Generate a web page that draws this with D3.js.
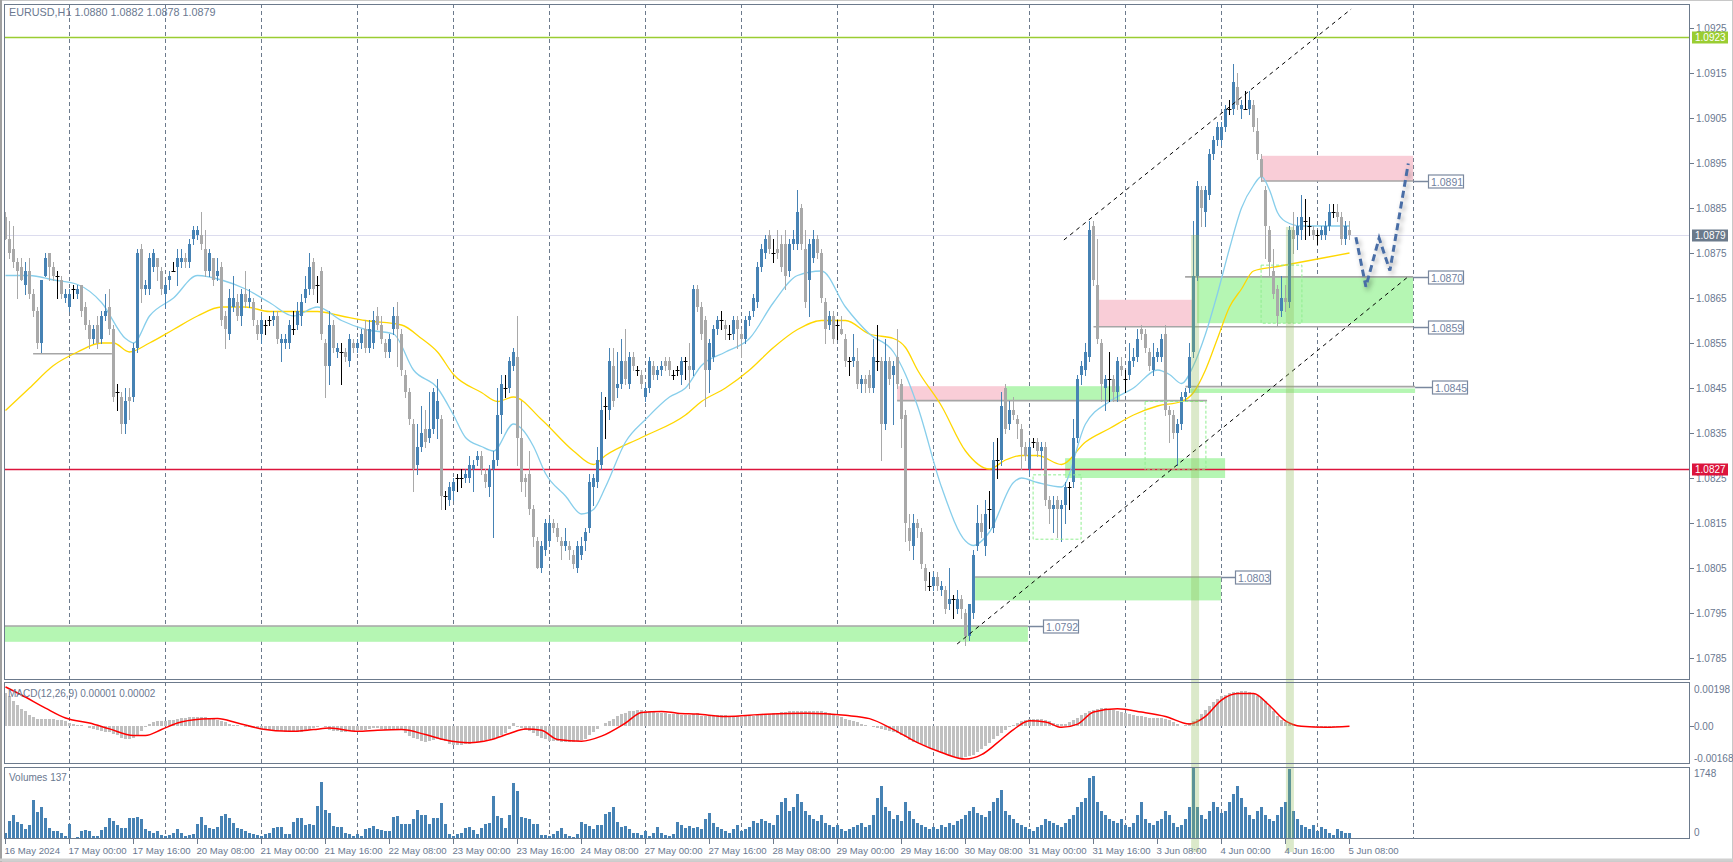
<!DOCTYPE html>
<html><head><meta charset="utf-8">
<script src="https://cdn.jsdelivr.net/npm/d3@7"></script>
<style>html,body{margin:0;padding:0;background:#fff;overflow:hidden}svg{display:block;font-family:"Liberation Sans",Arial,sans-serif}</style>
</head><body><svg id="c" width="1733" height="862"></svg>
<script>
// ---------------- DATA (EURUSD H1, 16 May 2024 08:00 .. 5 Jun 2024 08:00) ----------------
const open=[
1.0883,1.0878,1.0876,1.0873,1.0872,1.0868,1.0871,1.0866,1.0862,1.0855,
1.0870,1.0875,1.0872,1.0870,1.0869,1.0865,1.0863,1.0867,1.0866,1.0868,
1.0863,1.0859,1.0856,1.0859,1.0856,1.0861,1.0863,1.0858,1.0844,1.0843,
1.0837,1.0843,1.0843,1.0854,1.0876,1.0867,1.0867,1.0872,1.0874,1.0871,
1.0866,1.0869,1.0871,1.0872,1.0873,1.0874,1.0873,1.0878,1.0879,1.0879,
1.0876,1.0871,1.0874,1.0870,1.0872,1.0861,1.0857,1.0863,1.0864,1.0861,
1.0866,1.0864,1.0864,1.0859,1.0857,1.0859,1.0860,1.0860,1.0861,1.0855,
1.0855,1.0855,1.0858,1.0859,1.0861,1.0865,1.0867,1.0873,1.0868,1.0871,
1.0855,1.0850,1.0859,1.0853,1.0853,1.0853,1.0851,1.0855,1.0854,1.0855,
1.0858,1.0854,1.0855,1.0861,1.0859,1.0855,1.0853,1.0858,1.0861,1.0857,
1.0848,1.0844,1.0837,1.0828,1.0832,1.0836,1.0834,1.0836,1.0838,1.0838,
1.0821,1.0820,1.0822,1.0825,1.0825,1.0825,1.0825,1.0827,1.0829,1.0830,
1.0826,1.0823,1.0827,1.0829,1.0839,1.0845,1.0845,1.0850,1.0852,1.0834,
1.0825,1.0826,1.0818,1.0811,1.0805,1.0809,1.0811,1.0815,1.0814,1.0811,
1.0810,1.0810,1.0808,1.0805,1.0808,1.0811,1.0814,1.0823,1.0824,1.0828,
1.0841,1.0840,1.0850,1.0845,1.0846,1.0851,1.0846,1.0852,1.0849,1.0848,
1.0843,1.0845,1.0850,1.0848,1.0849,1.0851,1.0851,1.0848,1.0849,1.0848,
1.0851,1.0850,1.0849,1.0867,1.0863,1.0860,1.0849,1.0852,1.0858,1.0860,
1.0859,1.0857,1.0857,1.0860,1.0857,1.0856,1.0860,1.0862,1.0864,1.0872,
1.0875,1.0879,1.0875,1.0876,1.0877,1.0877,1.0871,1.0877,1.0877,1.0885,
1.0876,1.0869,1.0874,1.0878,1.0875,1.0864,1.0859,1.0861,1.0859,1.0858,
1.0856,1.0851,1.0851,1.0851,1.0846,1.0847,1.0848,1.0845,1.0851,1.0851,
1.0837,1.0851,1.0848,1.0852,1.0846,1.0839,1.0814,1.0810,1.0815,1.0813,
1.0805,1.0801,1.0801,1.0803,1.0800,1.0800,1.0797,1.0798,1.0796,1.0798,
1.0795,1.0790,1.0795,1.0810,1.0815,1.0810,1.0818,1.0814,1.0829,1.0829,
1.0845,1.0837,1.0840,1.0838,1.0836,1.0832,1.0827,1.0833,1.0833,1.0831,
1.0832,1.0820,1.0818,1.0820,1.0818,1.0819,1.0823,1.0824,1.0834,1.0848,
1.0849,1.0852,1.0881,1.0868,1.0855,1.0845,1.0847,1.0847,1.0844,1.0850,
1.0847,1.0848,1.0851,1.0852,1.0858,1.0857,1.0853,1.0849,1.0852,1.0852,
1.0857,1.0840,1.0839,1.0835,1.0837,1.0843,1.0845,1.0853,1.0870,1.0889,
1.0884,1.0888,1.0897,1.0900,1.0900,1.0903,1.0907,1.0907,1.0912,1.0907,
1.0907,1.0907,1.0908,1.0902,1.0896,1.0889,1.0880,1.0871,1.0867,1.0862,
1.0865,1.0864,1.0880,1.0879,1.0880,1.0882,1.0881,1.0880,1.0879,1.0879,
1.0879,1.0881,1.0884,1.0884,1.0883,1.0878,1.0880];
const high=[
1.0884,1.0882,1.0881,1.0874,1.0874,1.0873,1.0874,1.0867,1.0863,1.0869,
1.0875,1.0875,1.0873,1.0871,1.0870,1.0867,1.0867,1.0868,1.0868,1.0868,
1.0864,1.0860,1.0859,1.0861,1.0862,1.0866,1.0867,1.0859,1.0846,1.0844,
1.0845,1.0845,1.0855,1.0876,1.0877,1.0869,1.0875,1.0876,1.0874,1.0872,
1.0869,1.0871,1.0873,1.0876,1.0876,1.0875,1.0878,1.0881,1.0881,1.0884,
1.0880,1.0876,1.0874,1.0874,1.0873,1.0862,1.0867,1.0870,1.0866,1.0867,
1.0871,1.0867,1.0865,1.0860,1.0861,1.0860,1.0861,1.0862,1.0862,1.0857,
1.0857,1.0860,1.0862,1.0864,1.0866,1.0870,1.0875,1.0874,1.0870,1.0872,
1.0856,1.0862,1.0860,1.0855,1.0855,1.0854,1.0857,1.0856,1.0856,1.0858,
1.0860,1.0860,1.0862,1.0863,1.0861,1.0856,1.0857,1.0863,1.0864,1.0858,
1.0849,1.0845,1.0838,1.0837,1.0841,1.0840,1.0844,1.0845,1.0847,1.0839,
1.0822,1.0824,1.0825,1.0826,1.0827,1.0827,1.0830,1.0829,1.0831,1.0831,
1.0827,1.0828,1.0831,1.0845,1.0848,1.0848,1.0852,1.0854,1.0861,1.0842,
1.0826,1.0831,1.0819,1.0812,1.0811,1.0816,1.0816,1.0816,1.0815,1.0812,
1.0814,1.0811,1.0809,1.0811,1.0812,1.0814,1.0826,1.0826,1.0832,1.0844,
1.0843,1.0854,1.0854,1.0853,1.0856,1.0858,1.0853,1.0853,1.0850,1.0849,
1.0846,1.0852,1.0851,1.0850,1.0851,1.0852,1.0852,1.0849,1.0850,1.0852,
1.0852,1.0855,1.0868,1.0868,1.0864,1.0861,1.0856,1.0859,1.0861,1.0862,
1.0860,1.0859,1.0861,1.0861,1.0858,1.0861,1.0862,1.0866,1.0873,1.0877,
1.0879,1.0880,1.0878,1.0880,1.0879,1.0880,1.0878,1.0880,1.0889,1.0886,
1.0880,1.0878,1.0880,1.0879,1.0876,1.0865,1.0862,1.0862,1.0860,1.0861,
1.0857,1.0852,1.0857,1.0854,1.0848,1.0848,1.0849,1.0856,1.0859,1.0852,
1.0856,1.0852,1.0851,1.0858,1.0847,1.0840,1.0817,1.0817,1.0816,1.0814,
1.0806,1.0804,1.0804,1.0804,1.0802,1.0801,1.0805,1.0799,1.0800,1.0799,
1.0796,1.0797,1.0809,1.0819,1.0817,1.0820,1.0822,1.0833,1.0834,1.0844,
1.0846,1.0842,1.0843,1.0839,1.0837,1.0833,1.0833,1.0834,1.0834,1.0833,
1.0833,1.0821,1.0821,1.0821,1.0820,1.0824,1.0824,1.0838,1.0848,1.0851,
1.0855,1.0882,1.0882,1.0878,1.0856,1.0848,1.0853,1.0848,1.0852,1.0852,
1.0849,1.0855,1.0854,1.0858,1.0859,1.0858,1.0854,1.0855,1.0854,1.0857,
1.0859,1.0841,1.0840,1.0838,1.0844,1.0845,1.0855,1.0882,1.0891,1.0890,
1.0890,1.0898,1.0901,1.0904,1.0904,1.0908,1.0909,1.0917,1.0915,1.0909,
1.0911,1.0911,1.0909,1.0905,1.0897,1.0890,1.0881,1.0876,1.0868,1.0870,
1.0868,1.0881,1.0884,1.0883,1.0888,1.0887,1.0883,1.0881,1.0880,1.0881,
1.0882,1.0886,1.0886,1.0886,1.0884,1.0882,1.0882];
const low=[
1.0878,1.0874,1.0872,1.0865,1.0869,1.0866,1.0865,1.0861,1.0854,1.0853,
1.0870,1.0869,1.0869,1.0865,1.0865,1.0864,1.0862,1.0865,1.0865,1.0861,
1.0858,1.0854,1.0855,1.0854,1.0855,1.0860,1.0857,1.0842,1.0840,1.0835,
1.0835,1.0838,1.0842,1.0853,1.0864,1.0866,1.0866,1.0871,1.0869,1.0866,
1.0863,1.0867,1.0871,1.0868,1.0872,1.0872,1.0872,1.0877,1.0878,1.0876,
1.0870,1.0870,1.0868,1.0869,1.0859,1.0854,1.0856,1.0862,1.0860,1.0859,
1.0863,1.0863,1.0859,1.0856,1.0855,1.0857,1.0859,1.0859,1.0855,1.0851,
1.0854,1.0854,1.0857,1.0858,1.0859,1.0864,1.0866,1.0866,1.0864,1.0856,
1.0843,1.0846,1.0853,1.0852,1.0846,1.0851,1.0850,1.0853,1.0853,1.0854,
1.0853,1.0853,1.0854,1.0858,1.0855,1.0852,1.0852,1.0857,1.0850,1.0848,
1.0843,1.0837,1.0822,1.0826,1.0831,1.0832,1.0833,1.0835,1.0834,1.0818,
1.0818,1.0819,1.0820,1.0822,1.0823,1.0824,1.0824,1.0822,1.0828,1.0826,
1.0823,1.0821,1.0812,1.0828,1.0835,1.0843,1.0844,1.0849,1.0828,1.0822,
1.0821,1.0817,1.0810,1.0805,1.0804,1.0808,1.0810,1.0813,1.0811,1.0807,
1.0809,1.0807,1.0805,1.0804,1.0807,1.0809,1.0813,1.0819,1.0823,1.0827,
1.0834,1.0838,1.0841,1.0843,1.0845,1.0846,1.0845,1.0849,1.0848,1.0845,
1.0842,1.0844,1.0847,1.0847,1.0848,1.0849,1.0848,1.0847,1.0848,1.0846,
1.0847,1.0845,1.0848,1.0862,1.0856,1.0841,1.0844,1.0851,1.0857,1.0858,
1.0856,1.0856,1.0856,1.0854,1.0852,1.0855,1.0859,1.0861,1.0863,1.0871,
1.0874,1.0875,1.0873,1.0874,1.0871,1.0867,1.0870,1.0876,1.0876,1.0876,
1.0863,1.0861,1.0873,1.0874,1.0864,1.0855,1.0858,1.0855,1.0856,1.0857,
1.0850,1.0848,1.0850,1.0845,1.0844,1.0844,1.0844,1.0844,1.0849,1.0829,
1.0836,1.0846,1.0837,1.0845,1.0832,1.0811,1.0809,1.0807,1.0812,1.0805,
1.0800,1.0800,1.0800,1.0800,1.0799,1.0795,1.0796,1.0794,1.0795,1.0794,
1.0788,1.0789,1.0794,1.0809,1.0812,1.0808,1.0814,1.0813,1.0825,1.0828,
1.0835,1.0836,1.0838,1.0834,1.0827,1.0829,1.0826,1.0832,1.0830,1.0827,
1.0819,1.0815,1.0813,1.0812,1.0811,1.0815,1.0818,1.0823,1.0833,1.0846,
1.0848,1.0851,1.0868,1.0855,1.0842,1.0840,1.0842,1.0842,1.0842,1.0848,
1.0844,1.0847,1.0850,1.0851,1.0856,1.0853,1.0849,1.0848,1.0851,1.0851,
1.0839,1.0833,1.0834,1.0828,1.0836,1.0842,1.0844,1.0852,1.0869,1.0881,
1.0881,1.0887,1.0896,1.0899,1.0899,1.0902,1.0906,1.0906,1.0907,1.0905,
1.0907,1.0906,1.0902,1.0896,1.0891,1.0874,1.0870,1.0865,1.0859,1.0861,
1.0862,1.0863,1.0875,1.0876,1.0878,1.0878,1.0879,1.0878,1.0877,1.0878,
1.0878,1.0880,1.0883,1.0882,1.0877,1.0877,1.0878];
const close=[
1.0878,1.0875,1.0873,1.0871,1.0869,1.0871,1.0866,1.0862,1.0855,1.0869,
1.0874,1.0872,1.0870,1.0870,1.0866,1.0866,1.0866,1.0867,1.0867,1.0862,
1.0859,1.0856,1.0858,1.0855,1.0861,1.0862,1.0858,1.0843,1.0844,1.0837,
1.0842,1.0842,1.0854,1.0875,1.0867,1.0868,1.0874,1.0875,1.0872,1.0867,
1.0868,1.0870,1.0871,1.0874,1.0874,1.0873,1.0877,1.0880,1.0880,1.0877,
1.0871,1.0875,1.0869,1.0871,1.0860,1.0858,1.0865,1.0865,1.0861,1.0866,
1.0864,1.0865,1.0860,1.0857,1.0860,1.0859,1.0860,1.0861,1.0856,1.0856,
1.0856,1.0859,1.0858,1.0862,1.0864,1.0867,1.0872,1.0867,1.0868,1.0857,
1.0850,1.0859,1.0854,1.0854,1.0853,1.0852,1.0856,1.0854,1.0855,1.0857,
1.0854,1.0858,1.0860,1.0859,1.0856,1.0853,1.0856,1.0861,1.0858,1.0849,
1.0844,1.0838,1.0827,1.0832,1.0835,1.0833,1.0836,1.0844,1.0842,1.0821,
1.0821,1.0823,1.0824,1.0825,1.0825,1.0826,1.0828,1.0828,1.0830,1.0827,
1.0824,1.0827,1.0829,1.0839,1.0846,1.0845,1.0851,1.0853,1.0834,1.0824,
1.0824,1.0818,1.0812,1.0805,1.0810,1.0815,1.0815,1.0814,1.0812,1.0810,
1.0811,1.0809,1.0806,1.0810,1.0810,1.0813,1.0824,1.0825,1.0829,1.0840,
1.0841,1.0851,1.0842,1.0846,1.0851,1.0847,1.0852,1.0850,1.0849,1.0846,
1.0845,1.0851,1.0848,1.0849,1.0850,1.0850,1.0849,1.0848,1.0849,1.0851,
1.0851,1.0849,1.0867,1.0863,1.0857,1.0849,1.0855,1.0858,1.0860,1.0860,
1.0858,1.0857,1.0860,1.0858,1.0856,1.0860,1.0861,1.0865,1.0872,1.0876,
1.0878,1.0876,1.0875,1.0875,1.0872,1.0870,1.0877,1.0878,1.0884,1.0877,
1.0864,1.0877,1.0878,1.0875,1.0865,1.0858,1.0861,1.0856,1.0859,1.0857,
1.0851,1.0851,1.0852,1.0846,1.0847,1.0846,1.0845,1.0852,1.0851,1.0837,
1.0851,1.0847,1.0850,1.0846,1.0838,1.0815,1.0811,1.0815,1.0814,1.0806,
1.0802,1.0801,1.0803,1.0801,1.0801,1.0796,1.0798,1.0798,1.0798,1.0796,
1.0790,1.0797,1.0808,1.0815,1.0813,1.0817,1.0818,1.0829,1.0829,1.0841,
1.0836,1.0840,1.0839,1.0837,1.0832,1.0830,1.0832,1.0833,1.0831,1.0832,
1.0820,1.0818,1.0819,1.0818,1.0819,1.0823,1.0823,1.0834,1.0847,1.0850,
1.0853,1.0880,1.0869,1.0856,1.0846,1.0847,1.0847,1.0844,1.0851,1.0849,
1.0847,1.0851,1.0852,1.0856,1.0857,1.0854,1.0850,1.0852,1.0853,1.0856,
1.0840,1.0839,1.0835,1.0837,1.0843,1.0844,1.0852,1.0870,1.0890,1.0885,
1.0889,1.0897,1.0900,1.0903,1.0903,1.0907,1.0907,1.0913,1.0908,1.0908,
1.0907,1.0909,1.0903,1.0897,1.0892,1.0881,1.0873,1.0866,1.0861,1.0865,
1.0864,1.0880,1.0878,1.0881,1.0883,1.0882,1.0881,1.0879,1.0879,1.0880,
1.0881,1.0884,1.0884,1.0883,1.0878,1.0881,1.0879];
const volumes=[
160,440,590,430,360,240,350,950,660,780,
510,280,200,200,160,65,380,25,40,200,
220,200,80,80,225,305,520,440,345,280,
280,520,505,540,500,240,200,160,185,105,
80,105,160,240,160,80,105,135,360,540,
345,280,240,300,565,605,520,400,280,240,
200,160,120,105,80,120,160,280,300,300,
120,135,430,520,505,345,380,345,805,1395,
725,645,320,305,305,160,120,80,135,80,
240,265,320,240,220,200,200,540,565,380,
380,380,500,725,590,590,380,505,505,885,
380,120,80,135,160,280,300,220,135,280,
380,400,1060,565,520,280,590,1370,1185,540,
520,485,360,380,105,105,80,135,200,265,
135,80,40,120,430,360,320,240,345,345,
620,670,780,430,300,320,240,160,160,105,
200,80,160,300,160,105,80,120,430,345,
280,320,280,300,250,500,650,400,300,250,
200,150,250,350,200,250,300,450,400,500,
450,400,350,600,900,1000,700,800,1100,900,
700,600,500,450,600,400,350,300,350,250,
200,250,300,350,400,300,350,600,1000,1300,
800,700,500,600,450,900,700,500,400,350,
300,250,300,250,350,300,400,350,450,500,
600,700,800,650,600,550,700,900,1000,1200,
700,600,500,400,350,300,250,200,300,350,
500,450,400,350,300,400,500,600,800,900,
1000,1500,1550,900,700,600,500,450,400,500,
350,300,400,600,900,500,400,350,450,500,
700,600,400,300,350,500,800,1748,800,600,
500,700,900,800,650,700,900,1100,1300,1000,
800,600,500,700,800,600,500,450,600,800,
900,1720,700,500,350,300,250,350,200,300,
250,150,100,250,200,150,137];
const macdMain=[
150e-5,138e-5,117e-5,98e-5,78e-5,68e-5,53e-5,42e-5,35e-5,33e-5,
33e-5,33e-5,32e-5,31e-5,28e-5,23e-5,15e-5,12e-5,8e-5,4e-5,
0,-8e-5,-12e-5,-15e-5,-20e-5,-24e-5,-27e-5,-35e-5,-42e-5,-53e-5,
-60e-5,-60e-5,-53e-5,-38e-5,-23e-5,-5e-5,12e-5,18e-5,23e-5,23e-5,
25e-5,27e-5,30e-5,33e-5,36e-5,38e-5,42e-5,42e-5,42e-5,42e-5,
42e-5,40e-5,38e-5,30e-5,24e-5,18e-5,12e-5,8e-5,5e-5,0,
-2e-5,-3e-5,-5e-5,-8e-5,-12e-5,-15e-5,-16e-5,-18e-5,-20e-5,-23e-5,
-25e-5,-27e-5,-27e-5,-26e-5,-24e-5,-22e-5,-18e-5,-10e-5,3e-5,0,
-5e-5,-15e-5,-20e-5,-23e-5,-27e-5,-25e-5,-23e-5,-20e-5,-18e-5,-16e-5,
-15e-5,-12e-5,-10e-5,-8e-5,-12e-5,-15e-5,-13e-5,-12e-5,-12e-5,-18e-5,
-30e-5,-45e-5,-52e-5,-60e-5,-66e-5,-72e-5,-68e-5,-64e-5,-60e-5,-64e-5,
-68e-5,-83e-5,-86e-5,-87e-5,-85e-5,-83e-5,-80e-5,-78e-5,-72e-5,-70e-5,
-64e-5,-60e-5,-57e-5,-53e-5,-42e-5,-30e-5,-12e-5,15e-5,3e-5,-8e-5,
-15e-5,-22e-5,-30e-5,-45e-5,-52e-5,-57e-5,-68e-5,-69e-5,-69e-5,-70e-5,
-72e-5,-72e-5,-70e-5,-68e-5,-64e-5,-60e-5,-38e-5,-25e-5,-12e-5,0,
15e-5,25e-5,33e-5,45e-5,57e-5,62e-5,68e-5,72e-5,74e-5,75e-5,
72e-5,70e-5,68e-5,63e-5,62e-5,60e-5,57e-5,55e-5,54e-5,53e-5,
53e-5,53e-5,55e-5,60e-5,45e-5,45e-5,47e-5,48e-5,50e-5,50e-5,
50e-5,48e-5,46e-5,45e-5,44e-5,45e-5,45e-5,47e-5,50e-5,53e-5,
55e-5,57e-5,60e-5,62e-5,64e-5,66e-5,68e-5,70e-5,70e-5,71e-5,
72e-5,72e-5,71e-5,70e-5,70e-5,67e-5,62e-5,55e-5,48e-5,42e-5,
35e-5,30e-5,24e-5,18e-5,12e-5,6e-5,0,-5e-5,-8e-5,-12e-5,
-18e-5,-22e-5,-25e-5,-30e-5,-38e-5,-50e-5,-62e-5,-70e-5,-75e-5,-82e-5,
-90e-5,-98e-5,-105e-5,-112e-5,-120e-5,-128e-5,-135e-5,-140e-5,-145e-5,-145e-5,
-142e-5,-138e-5,-130e-5,-118e-5,-105e-5,-90e-5,-75e-5,-60e-5,-45e-5,-30e-5,
-15e-5,-5e-5,5e-5,15e-5,25e-5,30e-5,33e-5,35e-5,35e-5,33e-5,
28e-5,22e-5,15e-5,10e-5,10e-5,12e-5,20e-5,30e-5,40e-5,50e-5,
60e-5,68e-5,75e-5,80e-5,85e-5,84e-5,80e-5,76e-5,70e-5,65e-5,
60e-5,55e-5,50e-5,47e-5,45e-5,43e-5,40e-5,38e-5,37e-5,36e-5,
35e-5,28e-5,20e-5,10e-5,0,5e-5,15e-5,25e-5,35e-5,55e-5,
75e-5,95e-5,110e-5,125e-5,138e-5,145e-5,150e-5,155e-5,158e-5,160e-5,
160e-5,155e-5,148e-5,140e-5,130e-5,115e-5,95e-5,70e-5,45e-5,30e-5,
20e-5,12e-5,5e-5,0,-3e-5,-5e-5,-5e-5,-5e-5,-5e-5,-5e-5,
-5e-5,-4e-5,-3e-5,-2e-5,-1e-5,0,0];
// MACD signal line, sampled [bar index, value]
const macdSignal=[[0,180e-5],[4,143e-5],[10,83e-5],[15,38e-5],[21,15e-5],[26,-12e-5],[32,-42e-5],[35,-42e-5],[39,-15e-5],[43,15e-5],[49,33e-5],[53,36e-5],[58,15e-5],[64,-12e-5],[71,-23e-5],[77,-15e-5],[81,-8e-5],[88,-23e-5],[93,-18e-5],[99,-15e-5],[105,-38e-5],[110,-63e-5],[116,-75e-5],[121,-63e-5],[126,-33e-5],[130,-12e-5],[134,-18e-5],[138,-60e-5],[144,-68e-5],[149,-45e-5],[155,15e-5],[159,63e-5],[164,68e-5],[168,60e-5],[173,56e-5],[180,45e-5],[190,55e-5],[200,60e-5],[210,50e-5],[216,35e-5],[222,-15e-5],[228,-75e-5],[234,-120e-5],[240,-150e-5],[244,-130e-5],[248,-75e-5],[252,-15e-5],[256,25e-5],[260,20e-5],[264,-5e-5],[268,10e-5],[272,65e-5],[278,80e-5],[284,65e-5],[290,45e-5],[296,10e-5],[300,45e-5],[304,120e-5],[308,150e-5],[312,150e-5],[316,95e-5],[320,25e-5],[324,0],[330,-5e-5],[336,0]];
// moving averages, sampled [bar index, value]
const maFast=[[0,1.0870],[6,1.0870],[12,1.0869],[18,1.0868],[24,1.0864],[30,1.0856],[32,1.0855],[36,1.0861],[42,1.0865],[48,1.0870],[54,1.0869],[60,1.0867],[66,1.0864],[72,1.0861],[78,1.0863],[84,1.0860],[90,1.0858],[97,1.0857],[102,1.0849],[108,1.0845],[112,1.0839],[115,1.0834],[119,1.0832],[122,1.0831],[127,1.0837],[129,1.0836],[132,1.0832],[135,1.0826],[140,1.0821],[144,1.0817],[147,1.0818],[150,1.0823],[155,1.0833],[160,1.0838],[166,1.0843],[170,1.0845],[174,1.0850],[180,1.0853],[186,1.0856],[192,1.0864],[198,1.0870],[204,1.0871],[210,1.0863],[216,1.0857],[222,1.0853],[225,1.0848],[228,1.0841],[234,1.0823],[240,1.0811],[242,1.0810],[246,1.0813],[252,1.0824],[254,1.0825],[258,1.0824],[264,1.0823],[270,1.0837],[276,1.0842],[282,1.0845],[288,1.0849],[291,1.0848],[294,1.0846],[297,1.0850],[300,1.0857],[303,1.0866],[306,1.0876],[309,1.0885],[312,1.0890],[314,1.0892],[316,1.0889],[318,1.0884],[320,1.0882],[324,1.0881],[330,1.0881],[336,1.0881]];
const maSlow=[[0,1.0840],[6,1.0845],[12,1.0850],[18,1.0853],[24,1.0855],[27,1.0855],[31,1.0853],[36,1.0855],[42,1.0858],[48,1.0861],[54,1.0863],[60,1.0863],[66,1.0862],[72,1.0862],[78,1.0862],[84,1.0861],[90,1.0860],[99,1.0859],[104,1.0856],[108,1.0853],[112,1.0848],[119,1.0844],[123,1.0842],[127,1.0843],[134,1.0838],[142,1.0831],[147,1.0828],[150,1.0830],[159,1.0834],[170,1.0839],[174,1.0842],[180,1.0845],[186,1.0849],[192,1.0854],[198,1.0858],[204,1.0860],[210,1.0860],[216,1.0857],[222,1.0856],[225,1.0854],[228,1.0849],[234,1.0841],[240,1.0831],[246,1.0827],[250,1.0829],[254,1.0830],[258,1.0830],[264,1.0828],[270,1.0833],[276,1.0836],[282,1.0839],[288,1.0841],[294,1.0842],[297,1.0844],[300,1.0849],[303,1.0856],[306,1.0863],[309,1.0867],[312,1.0871],[318,1.0872],[324,1.0873],[330,1.0874],[336,1.0875]];
// axis ticks / labels
const priceTicks=[1.0925,1.0915,1.0905,1.0895,1.0885,1.0875,1.0865,1.0855,1.0845,1.0835,1.0825,1.0815,1.0805,1.0795,1.0785];
const timeLabels=["16 May 2024","17 May 00:00","17 May 16:00","20 May 08:00","21 May 00:00","21 May 16:00","22 May 08:00","23 May 00:00","23 May 16:00","24 May 08:00","27 May 00:00","27 May 16:00","28 May 08:00","29 May 00:00","29 May 16:00","30 May 08:00","31 May 00:00","31 May 16:00","3 Jun 08:00","4 Jun 00:00","4 Jun 16:00","5 Jun 08:00"];
const timeLabelIdx=[0,16,32,48,64,80,96,112,128,144,160,176,192,208,224,240,256,272,288,304,320,336];
const dayStartIdx=[16,40,64,88,112,136,160,184,208,232,256,280,304,328,352];
const macdTicks=[0.00198,0,-0.00168], macdTickText=["0.00198","0.00","-0.00168"];
const volTicks=[1748,0];
// horizontal price lines
const hLevels=[{p:1.0923,kind:"target"},{p:1.0879,kind:"bid"},{p:1.0827,kind:"pivot"}];
// analysis drawings (bar index / price)
const zones=[
 {i0:-0.4,i1:255.6,p0:1.07921,p1:1.07886,kind:"support"},
 {i0:242.4,i1:303.9,p0:1.0803,p1:1.07978,kind:"support"},
 {i0:222.9,i1:249.9,p0:1.08454,p1:1.08421,kind:"resist"},
 {i0:249.9,i1:278.6,p0:1.08454,p1:1.08421,kind:"support"},
 {i0:273.1,i1:296.6,p0:1.08646,p1:1.08586,kind:"resist"},
 {i0:297.9,i1:351.9,p0:1.08697,p1:1.08594,kind:"support"},
 {i0:296.1,i1:352.4,p0:1.08449,p1:1.08439,kind:"support"},
 {i0:264.9,i1:304.9,p0:1.08294,p1:1.0825,kind:"support"},
 {i0:314.1,i1:351.9,p0:1.08966,p1:1.0891,kind:"resist"}];
const levelLines=[
 {p:1.08526,i0:6.9,i1:26.6},{p:1.07921,i0:-0.4,i1:255.6},{p:1.0803,i0:242.4,i1:303.9},
 {p:1.08422,i0:222.9,i1:300.4},{p:1.08586,i0:272.0,i1:351.9},{p:1.08697,i0:294.9,i1:351.9},
 {p:1.08453,i0:295.0,i1:352.4},{p:1.0891,i0:314.1,i1:351.9}];
const levelLabels=[
 {t:"1.0891",p:1.0891,i0:351.9,i1:355.6},{t:"1.0870",p:1.08697,i0:351.9,i1:355.6},
 {t:"1.0859",p:1.08586,i0:351.9,i1:355.6},{t:"1.0845",p:1.08453,i0:352.4,i1:356.6},
 {t:"1.0803",p:1.0803,i0:303.9,i1:307.4},{t:"1.0792",p:1.07921,i0:255.6,i1:259.4}];
const dashedBoxes=[{i0:256.9,i1:268.9,p0:1.08257,p1:1.08114},{i0:284.9,i1:300.1,p0:1.0842,p1:1.08268},{i0:313.9,i1:324.1,p0:1.08723,p1:1.08594}];
const volBands=[{i0:296.4,i1:298.4,p:1.0879},{i0:320.1,i1:322.1,p:1.08808}];
const channel=[[[264.6,1.08779],[336.4,1.09292]],[[237.9,1.07881],[350.9,1.08699]]];
const forecast=[[337.6,1.08785],[340.1,1.08675],[343.4,1.08783],[346.1,1.08711],[350.7,1.08949]];
const titleText="EURUSD,H1  1.0880 1.0882 1.0878 1.0879";
const macdTitle="MACD(12,26,9) 0.00001 0.00002";
const volTitle="Volumes 137";

// ---------------- DRAWING ----------------
const svg=d3.select("#c");
const L=4,R=1690;
const P={main:[4,680],macd:[682,764],vol:[767,839]};
const AX="#6c7a8c", TXT="#6a7890";
const x=d3.scaleLinear().domain([0,421]).range([5.5,1689.5]);
const yP=d3.scaleLinear().domain([1.0785,1.0925]).range([658,28]);
const yM=d3.scaleLinear().domain([-0.00168,0.00198]).range([763,683]);
const yV=d3.scaleLinear().domain([0,1748]).range([839,768]);
const N=close.length;

const defs=svg.append("defs");
Object.entries(P).forEach(([k,[t,b]])=>{
  defs.append("clipPath").attr("id","clip-"+k).append("rect").attr("x",L).attr("y",t).attr("width",R-L).attr("height",b-t);
});
const f=defs.append("filter").attr("id","shadow").attr("x","-20%").attr("y","-20%").attr("width","140%").attr("height","140%");
f.append("feDropShadow").attr("dx",2).attr("dy",3).attr("stdDeviation",2.5).attr("flood-color","#000").attr("flood-opacity",0.35);

svg.append("rect").attr("width",1733).attr("height",862).attr("fill","#fff");
svg.append("rect").attr("x",0.5).attr("y",0.5).attr("width",1732).attr("height",861).attr("fill","none").attr("stroke","#c8c8c8").attr("stroke-width",1);
svg.append("line").attr("x1",1).attr("x2",1).attr("y1",0).attr("y2",862).attr("stroke","#a0a0a0").attr("stroke-width",2);
svg.append("line").attr("x1",0).attr("x2",1733).attr("y1",860).attr("y2",860).attr("stroke","#d0d0d0").attr("stroke-width",3);

const gMain=svg.append("g").attr("clip-path","url(#clip-main)");
const gMacd=svg.append("g").attr("clip-path","url(#clip-macd)");
const gVol=svg.append("g").attr("clip-path","url(#clip-vol)");

// day grid
[[gMain,P.main],[gMacd,P.macd],[gVol,P.vol]].forEach(([g,[t,b]])=>{
  g.selectAll(null).data(dayStartIdx).enter().append("line")
   .attr("x1",d=>x(d)).attr("x2",d=>x(d)).attr("y1",t).attr("y2",b)
   .attr("stroke",AX).attr("stroke-width",1).attr("stroke-dasharray","4,3");
});

// zones
gMain.selectAll(null).data(zones).enter().append("rect")
 .attr("x",d=>x(d.i0)).attr("width",d=>x(d.i1)-x(d.i0))
 .attr("y",d=>yP(d.p0)).attr("height",d=>yP(d.p1)-yP(d.p0))
 .attr("fill",d=>d.kind==="support"?"#b5f6b3":"#f9cdd7");

// horizontal price lines
const hColor={target:"#9acd32",bid:"#dcdcee",pivot:"#dc143c"};
gMain.selectAll(null).data(hLevels).enter().append("line")
 .attr("x1",L).attr("x2",R).attr("y1",d=>Math.round(yP(d.p))+0.5).attr("y2",d=>Math.round(yP(d.p))+0.5)
 .attr("stroke",d=>hColor[d.kind]).attr("stroke-width",d=>d.kind==="bid"?1:1.4);

// level lines
gMain.selectAll(null).data(levelLines).enter().append("line")
 .attr("x1",d=>x(d.i0)).attr("x2",d=>x(d.i1)).attr("y1",d=>yP(d.p)).attr("y2",d=>yP(d.p))
 .attr("stroke","#a6a6a6").attr("stroke-width",1.6);

// moving averages
const line=d3.line().x(d=>x(d[0])).y(d=>yP(d[1])).curve(d3.curveMonotoneX);
gMain.append("path").attr("d",line(maSlow)).attr("fill","none").attr("stroke","#ffd700").attr("stroke-width",1.3);
gMain.append("path").attr("d",line(maFast)).attr("fill","none").attr("stroke","#87ceeb").attr("stroke-width",1.3);

// candles
const UP="#4682b4", DN="#a9a9a9", DJ="#000";
const cg=gMain.append("g");
for(let i=0;i<N;i++){
  const o=open[i],c=close[i],h=high[i],l=low[i];
  const col=c>o?UP:(c<o?DN:DJ);
  const cx=x(i);
  cg.append("line").attr("x1",cx).attr("x2",cx).attr("y1",Math.round(yP(h))).attr("y2",Math.round(yP(l))+1).attr("stroke",col).attr("stroke-width",1);
  if(c===o){
    cg.append("line").attr("x1",cx-2).attr("x2",cx+2).attr("y1",Math.round(yP(c))+0.5).attr("y2",Math.round(yP(c))+0.5).attr("stroke",DJ).attr("stroke-width",1);
  } else {
    const t=Math.round(yP(Math.max(o,c))), b=Math.round(yP(Math.min(o,c)));
    cg.append("rect").attr("x",cx-1.5).attr("width",3).attr("y",t).attr("height",Math.max(1,b-t)).attr("fill",col);
  }
}

// dashed boxes
gMain.selectAll(null).data(dashedBoxes).enter().append("rect")
 .attr("x",d=>x(d.i0)).attr("width",d=>x(d.i1)-x(d.i0))
 .attr("y",d=>yP(d.p0)).attr("height",d=>yP(d.p1)-yP(d.p0))
 .attr("fill","none").attr("stroke","#90ee90").attr("stroke-width",1).attr("stroke-dasharray","3,2");

// channel
gMain.selectAll(null).data(channel).enter().append("line")
 .attr("x1",d=>x(d[0][0])).attr("y1",d=>yP(d[0][1])).attr("x2",d=>x(d[1][0])).attr("y2",d=>yP(d[1][1]))
 .attr("stroke","#000").attr("stroke-width",1).attr("stroke-dasharray","4,4");

// forecast W path
gMain.append("path").attr("d",d3.line().x(d=>x(d[0])).y(d=>yP(d[1]))(forecast))
 .attr("fill","none").attr("stroke","#4a6ea6").attr("stroke-width",3).attr("stroke-dasharray","7,4").attr("filter","url(#shadow)");

// MACD
gMacd.selectAll(null).data(macdMain).enter().append("rect")
 .attr("x",(d,i)=>x(i)-1.5).attr("width",3)
 .attr("y",d=>Math.round(yM(Math.max(0,d)))).attr("height",d=>Math.max(d===0?0:1,Math.abs(Math.round(yM(d))-Math.round(yM(0)))))
 .attr("fill","#c0c0c0");
gMacd.append("path").attr("d",d3.line().x(d=>x(d[0])).y(d=>yM(d[1])).curve(d3.curveMonotoneX)(macdSignal))
 .attr("fill","none").attr("stroke","#ff0000").attr("stroke-width",1.5);

// Volumes
gVol.selectAll(null).data(volumes).enter().append("rect")
 .attr("x",(d,i)=>x(i)-1.5).attr("width",3)
 .attr("y",d=>Math.round(yV(d))).attr("height",d=>839-Math.round(yV(d)))
 .attr("fill",UP);

// vertical highlight bands (all panels)
svg.selectAll(null).data(volBands).enter().append("rect")
 .attr("x",d=>x(d.i0)).attr("width",d=>x(d.i1)-x(d.i0))
 .attr("y",d=>yP(d.p)).attr("height",d=>852-yP(d.p))
 .attr("fill","#8fbc5a").attr("opacity",0.32);

// level labels
const lg=svg.append("g");
levelLabels.forEach(d=>{
  const y=Math.round(yP(d.p))+0.5, bx=Math.round(x(d.i1))+0.5;
  lg.append("line").attr("x1",x(d.i0)).attr("x2",bx).attr("y1",y).attr("y2",y).attr("stroke","#7a889e").attr("stroke-width",1.5);
  lg.append("rect").attr("x",bx).attr("y",y-6.5).attr("width",35).attr("height",13).attr("fill","#fff").attr("stroke","#7a889e").attr("stroke-width",1.2);
  lg.append("text").attr("x",bx+2.5).attr("y",y+4).attr("font-size",10.5).attr("fill","#7282a0").text(d.t);
});

// panel frames
Object.values(P).forEach(([t,b])=>{
  svg.append("rect").attr("x",L+0.5).attr("y",t+0.5).attr("width",R-L-1).attr("height",b-t-1).attr("fill","none").attr("stroke",AX).attr("stroke-width",1);
});

// right price axis
const ax=svg.append("g").attr("font-size",10).attr("fill",TXT);
priceTicks.forEach(t=>{
  const y=Math.round(yP(t))+0.5;
  ax.append("line").attr("x1",R).attr("x2",R+4).attr("y1",y).attr("y2",y).attr("stroke",AX);
  ax.append("text").attr("x",R+6).attr("y",y+3.5).text(t.toFixed(4));
});
const boxColor={target:"#9acd32",bid:"#6b7a8b",pivot:"#dc143c"};
hLevels.forEach(d=>{
  const y=Math.round(yP(d.p));
  ax.append("rect").attr("x",R+2).attr("y",y-5.5).attr("width",36).attr("height",12).attr("fill",boxColor[d.kind]);
  ax.append("text").attr("x",R+5).attr("y",y+4).attr("fill","#fff").text(d.p.toFixed(4));
});
macdTicks.forEach((t,k)=>{
  const y=Math.min(758,Math.max(689,yM(t)));
  if(t===0) ax.append("line").attr("x1",R).attr("x2",R+4).attr("y1",Math.round(y)+0.5).attr("y2",Math.round(y)+0.5).attr("stroke",AX);
  ax.append("text").attr("x",R+4).attr("y",y+3.5).text(macdTickText[k]);
});
volTicks.forEach(t=>{
  const y=Math.min(832,Math.max(773,yV(t)));
  ax.append("text").attr("x",R+4).attr("y",y+3.5).text(t);
});

// time axis
timeLabelIdx.forEach((idx,k)=>{
  const xx=x(idx);
  ax.append("line").attr("x1",xx).attr("x2",xx).attr("y1",839).attr("y2",844).attr("stroke",AX);
  ax.append("text").attr("x",xx-1).attr("y",854).attr("font-size",9.6).text(timeLabels[k]);
});

// panel titles
svg.append("text").attr("x",9).attr("y",16).attr("font-size",10.8).attr("fill",TXT).text(titleText);
svg.append("text").attr("x",8).attr("y",697).attr("font-size",10).attr("fill",TXT).text(macdTitle);
svg.append("text").attr("x",9).attr("y",781).attr("font-size",10).attr("fill",TXT).text(volTitle);
</script></body></html>
